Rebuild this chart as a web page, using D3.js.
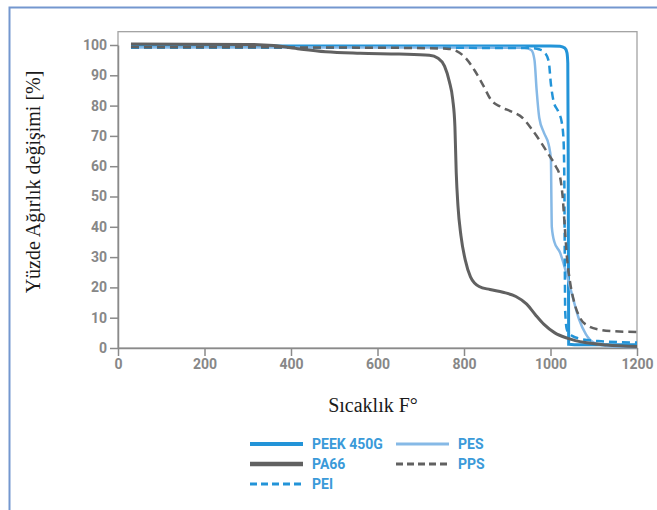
<!DOCTYPE html>
<html>
<head>
<meta charset="utf-8">
<script src="https://cdn.jsdelivr.net/npm/d3@7"></script>
<style>
  body { margin: 0; background: #fff; }
  svg { display: block; }
  .tick text { font-family: Roboto, "Open Sans", sans-serif; font-weight: 700; font-size: 14px; fill: #878787; }
  .axis path, .axis line { stroke: #8a8a8a; stroke-width: 1.5; }
  .serif { font-family: "Liberation Serif", "DejaVu Serif", serif; font-size: 20px; fill: #1a1a1a; }
  .leg { font-family: Roboto, sans-serif; font-weight: 700; font-size: 14px; fill: #3a9ad9; }
</style>
</head>
<body>
<svg id="chart"></svg>
<script>
// values: [temperature F, weight %]
var peek450g = [[30,99.7],[500,99.7],[1000,99.7],[1022,99.6],[1033,99],[1038,97.5],[1040,94],[1041,60],[1042,1.2],[1055,1.1],[1200,1.1]];
var pes = [[30,99.2],[500,99.2],[940,99.1],[956,98.3],[963,95],[968,85],[974,76],[985,71],[996,67],[1001,62],[1002,50],[1003,40],[1009,35],[1022,31.5],[1036,25],[1050,17.5],[1066,9.5],[1082,4.5],[1100,1.8],[1130,0.7],[1200,0.3]];
var pei = [[30,99.1],[500,99.1],[955,99],[975,98.5],[988,97.3],[996,94.5],[1001,87],[1007,81.5],[1018,78],[1026,74.5],[1030,69],[1032,55],[1033,30],[1034,12],[1038,6],[1050,4],[1070,3],[1110,2.3],[1200,1.8]];
var pa66 = [[30,100.3],[300,100.2],[360,99.8],[420,98.7],[480,97.8],[560,97.3],[650,97],[720,96.6],[740,95.6],[755,93],[766,88],[774,82],[779,73],[782,58],[786,47],[793,37],[803,29],[815,23.5],[835,20.3],[860,19.3],[890,18.4],[920,17],[945,14.5],[965,11],[985,7.8],[1010,5],[1040,3.2],[1080,1.8],[1130,1],[1200,0.5]];
var pps = [[30,99.3],[600,99.1],[760,98.8],[783,98],[805,95.5],[825,91.5],[845,86.5],[862,82],[885,79.6],[910,78],[935,76],[955,72.5],[975,68.5],[995,64],[1012,60],[1022,56.5],[1028,50],[1033,40],[1038,30],[1045,22],[1055,15],[1068,10],[1088,7.2],[1115,6],[1150,5.5],[1200,5.3]];

var xTicks = [0,200,400,600,800,1000,1200];
var yTicks = [0,10,20,30,40,50,60,70,80,90,100];
var legendItems = ["PEEK 450G","PES","PA66","PPS","PEI"];

const W = 657, H = 510;
var svg = d3.select("#chart").attr("width", W).attr("height", H);

// outer frame (left and top only)
svg.append("path")
    .attr("d", "M9.5," + H + "V7.5H" + W)
    .attr("fill", "none")
    .attr("stroke", "#7497cf")
    .attr("stroke-width", 2);

var x = d3.scaleLinear().domain([0, 1200]).range([118, 637]);
var y = d3.scaleLinear().domain([0, 100]).range([348, 45]);

// plot frame
svg.append("rect")
    .attr("x", x(0)).attr("y", y(104.4))
    .attr("width", x(1200) - x(0)).attr("height", y(0) - y(104.4))
    .attr("fill", "none").attr("stroke", "#a3a3a3").attr("stroke-width", 1.3);

svg.append("g")
    .attr("class", "axis")
    .attr("transform", "translate(0," + y(0) + ")")
    .call(d3.axisBottom(x).tickValues(xTicks).tickFormat(d3.format("d")).tickSize(8).tickPadding(3).tickSizeOuter(0));

svg.append("g")
    .attr("class", "axis")
    .attr("transform", "translate(" + x(0) + ",0)")
    .call(d3.axisLeft(y).tickValues(yTicks).tickFormat(d3.format("d")).tickSize(8).tickPadding(3).tickSizeOuter(0));

var line = d3.line()
    .x(function (d) { return x(d[0]); })
    .y(function (d) { return y(d[1]); })
    .curve(d3.curveMonotoneX);

var series = [
    {data: peek450g, color: "#2394d8", width: 3, dash: null},
    {data: pes, color: "#86b9e6", width: 2.5, dash: null},
    {data: pei, color: "#2394d8", width: 2.5, dash: "8,5"},
    {data: pps, color: "#616161", width: 2.5, dash: "8,5"},
    {data: pa66, color: "#616161", width: 3, dash: null}
];
series.forEach(function (s) {
    svg.append("path")
        .datum(s.data)
        .attr("fill", "none")
        .attr("stroke", s.color)
        .attr("stroke-width", s.width)
        .attr("stroke-dasharray", s.dash)
        .attr("d", line);
});

// axis titles
svg.append("text")
    .attr("class", "serif")
    .attr("transform", "translate(40,182) rotate(-90)")
    .attr("text-anchor", "middle")
    .text("Yüzde Ağırlık değişimi [%]");

svg.append("text")
    .attr("class", "serif")
    .attr("x", 373).attr("y", 412)
    .attr("text-anchor", "middle")
    .text("Sıcaklık F°");

// legend
var legStyle = {
    "PEEK 450G": {color: "#2394d8", width: 4, dash: null, col: 0, row: 0},
    "PES": {color: "#86b9e6", width: 3, dash: null, col: 1, row: 0},
    "PA66": {color: "#616161", width: 4.5, dash: null, col: 0, row: 1},
    "PPS": {color: "#616161", width: 3, dash: "7,4", col: 1, row: 1},
    "PEI": {color: "#2394d8", width: 3, dash: "7,4", col: 0, row: 2}
};
legendItems.forEach(function (name) {
    var st = legStyle[name];
    var lx = 250 + st.col * 146, ly = 444 + st.row * 20;
    svg.append("line")
        .attr("x1", lx).attr("x2", lx + 53)
        .attr("y1", ly).attr("y2", ly)
        .attr("stroke", st.color)
        .attr("stroke-width", st.width)
        .attr("stroke-dasharray", st.dash);
    svg.append("text")
        .attr("class", "leg")
        .attr("x", lx + 62).attr("y", ly + 5)
        .text(name);
});
</script>
</body>
</html>
